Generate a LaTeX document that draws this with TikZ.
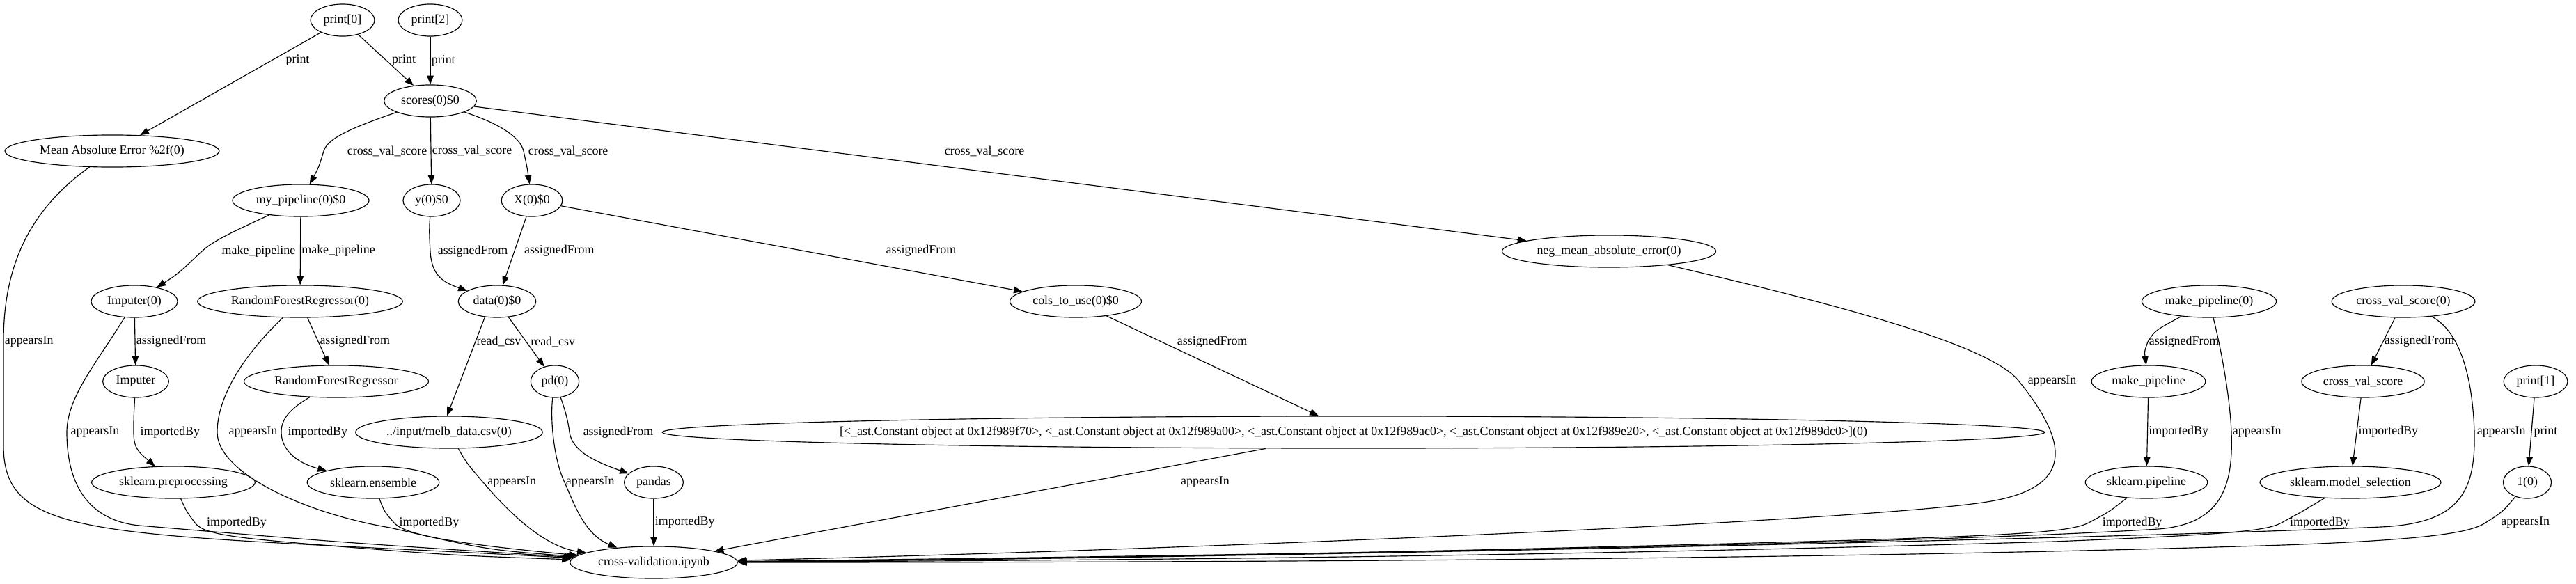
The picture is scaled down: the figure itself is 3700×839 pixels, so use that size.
\documentclass[tikz,border=0pt]{standalone}
\usepackage{fontspec}
\setmainfont{Liberation Serif}
\usepackage{tikz}
\usetikzlibrary{arrows.meta,positioning,shapes.geometric}

\newcommand{\gvfont}{\fontsize{14pt}{16pt}\selectfont}

\begin{document}
\begin{tikzpicture}[
    x=0.78125pt, y=-0.78125pt,
    every node/.style={font=\gvfont},
    var/.style={ellipse, draw, line width=0.9pt,
                minimum width=54pt, minimum height=36pt,
                inner xsep=4pt, inner ysep=2pt},
    flow/.style={-{Triangle[length=10pt, width=7.5pt]}, line width=0.9pt},
    lbl/.style={inner sep=1pt}
]
\useasboundingbox (0,0) rectangle (3700,839);

% call graph of cross-validation.ipynb
\node[var] (print0) at (492,29) {print[0]};
\node[var] (print2) at (618,29) {print[2]};
\node[var] (scores) at (618,145) {scores(0)\$0};
\node[var] (mean) at (161,217) {Mean Absolute Error \%2f(0)};
\node[var] (mypipe) at (432,288) {my\_pipeline(0)\$0};
\node[var] (y0) at (620,288) {y(0)\$0};
\node[var] (X0) at (764,288) {X(0)\$0};
\node[var] (neg) at (2311,361) {neg\_mean\_absolute\_error(0)};
\node[var] (imp0) at (193,433) {Imputer(0)};
\node[var] (rfr0) at (431,433) {RandomForestRegressor(0)};
\node[var] (data) at (714,433) {data(0)\$0};
\node[var] (cols) at (1545,433) {cols\_to\_use(0)\$0};
\node[var] (mkp0) at (3173,433) {make\_pipeline(0)};
\node[var] (cvs0) at (3452,433) {cross\_val\_score(0)};
\node[var] (imp) at (195,548) {Imputer};
\node[var] (rfr) at (483,548) {RandomForestRegressor};
\node[var] (pd) at (797,548) {pd(0)};
\node[var] (mkp) at (3086,548) {make\_pipeline};
\node[var] (cvs) at (3394,548) {cross\_val\_score};
\node[var] (print1) at (3642,548) {print[1]};
\node[var] (melb) at (645,621) {../input/melb\_data.csv(0)};
\node[var, inner xsep=-28pt] (biglist) at (1944,621) {[<\_ast.Constant object at 0x12f989f70>, <\_ast.Constant object at 0x12f989a00>, <\_ast.Constant object at 0x12f989ac0>, <\_ast.Constant object at 0x12f989e20>, <\_ast.Constant object at 0x12f989dc0>](0)};
\node[var] (skpre) at (249,693) {sklearn.preprocessing};
\node[var] (skens) at (536,693) {sklearn.ensemble};
\node[var] (pandas) at (939,693) {pandas};
\node[var] (skpipe) at (3083,693) {sklearn.pipeline};
\node[var] (skms) at (3376,693) {sklearn.model\_selection};
\node[var] (one) at (3630,693) {1(0)};
\node[var] (cv) at (939,808) {cross-validation.ipynb};

% print calls
\draw[flow] (print0) -- node[lbl, pos=0.27, right=14pt] {print} (mean);
\draw[flow] (print0) -- node[lbl, pos=0.5, right=5.5pt] {print} (scores);
\draw[flow] (print2) -- node[lbl, pos=0.5, right=0pt] {print} (scores);
\draw[flow] (print1) -- node[lbl, pos=0.5, right=1.3pt] {print} (one);

% cross_val_score arguments
\draw[flow] (scores) .. controls (500,185) and (470,200) .. (465,217)
    node[lbl, right=25pt] {cross\_val\_score} .. controls (458,240) .. (mypipe);
\draw[flow] (scores) -- node[lbl, pos=0.5, right=0pt] {cross\_val\_score} (y0);
\draw[flow] (scores) .. controls (725,180) and (748,200) .. (752,217)
    node[lbl, right=4pt] {cross\_val\_score} .. controls (757,240) .. (X0);
\draw[flow] (scores) -- node[lbl, pos=0.485, above=15.5pt] {cross\_val\_score} (neg);

% pipeline and data
\draw[flow] (mypipe) .. controls (330,335) and (305,347) .. (290,361)
    node[lbl, right=21pt] {make\_pipeline} .. controls (255,394) .. (imp0);
\draw[flow] (mypipe) -- node[lbl, pos=0.5, right=0pt] {make\_pipeline} (rfr0);
\draw[flow] (y0) .. controls (616,330) and (617,345) .. (618,361)
    node[lbl, right=7pt] {assignedFrom} .. controls (620,395) and (635,405) .. (data);
\draw[flow] (X0) -- node[lbl, pos=0.5, right=9.5pt] {assignedFrom} (data);
\draw[flow] (X0) -- node[lbl, pos=0.78, above=16.5pt] {assignedFrom} (cols);
\draw[flow] (imp0) -- node[lbl, pos=0.5, right=0pt] {assignedFrom} (imp);
\draw[flow] (rfr0) -- node[lbl, pos=0.5, right=0.5pt] {assignedFrom} (rfr);
\draw[flow] (data.-128) -- node[lbl, pos=0.25, right=0pt] {read\_csv} (melb.97);
\draw[flow] (data) -- node[lbl, pos=0.5, right=3.5pt] {read\_csv} (pd);
\draw[flow] (cols) -- node[lbl, pos=0.26, right=16pt] {assignedFrom} (biglist);
\draw[flow] (pd) .. controls (812,590) and (816,605) .. (818,621)
    node[lbl, right=14pt] {assignedFrom} .. controls (822,650) and (860,665) .. (pandas);
\draw[flow] (mkp0) .. controls (3095,475) .. (3085,491)
    node[lbl, right=0pt] {assignedFrom} .. controls (3080,505) .. (mkp);
\draw[flow] (cvs0) -- node[lbl, pos=0.5, right=0pt] {assignedFrom} (cvs);

% imports
\draw[flow] (imp) .. controls (192,600) .. (192,621)
    node[lbl, right=6pt] {importedBy} .. controls (192,645) and (200,650) .. (skpre);
\draw[flow] (rfr) .. controls (412,590) and (404,605) .. (404,621)
    node[lbl, right=6pt] {importedBy} .. controls (404,645) and (425,665) .. (skens);
\draw[flow] (mkp) -- node[lbl, pos=0.5, right=0pt] {importedBy} (skpipe);
\draw[flow] (cvs) -- node[lbl, pos=0.5, right=0.5pt] {importedBy} (skms);

% everything ends in the notebook
\draw[flow] (mean) .. controls (30,310) and (5,400) .. (5,491)
    node[lbl, right=0pt] {appearsIn} -- (5,640) .. controls (5,780) and (150,765) .. (cv);
\draw[flow] (imp0) .. controls (140,520) and (96,570) .. (96,621)
    node[lbl, right=3pt] {appearsIn} .. controls (96,700) and (130,748) .. (200,755)
    .. controls (500,780) .. (cv);
\draw[flow] (rfr0) .. controls (350,510) and (312,570) .. (312,621)
    node[lbl, right=11.5pt] {appearsIn} .. controls (312,680) and (440,738) .. (560,758)
    .. controls (700,790) .. (cv);
\draw[flow] (skpre) .. controls (268,735) .. (280,751)
    node[lbl, right=12pt] {importedBy} .. controls (292,767) and (330,772) .. (450,782)
    .. controls (650,798) .. (cv);
\draw[flow] (skens) .. controls (552,735) .. (566,751)
    node[lbl, right=4.5pt] {importedBy} .. controls (580,767) and (640,780) .. (cv);
\draw[flow] (melb) .. controls (670,665) .. (694,693)
    node[lbl, right=3.5pt] {appearsIn} .. controls (730,735) and (780,785) .. (cv);
\draw[flow] (pd) .. controls (790,600) and (795,660) .. (811,693)
    node[lbl, right=0pt] {appearsIn} .. controls (825,725) and (840,768) .. (cv);
\draw[flow] (pandas) -- node[lbl, pos=0.5, right=0pt] {importedBy} (cv);
\draw[flow] (biglist) -- node[lbl, pos=0.11, below=17.5pt] {appearsIn} (cv);
\draw[flow] (neg) .. controls (2650,440) and (2862,497) .. (2900,548)
    node[lbl, right=8.5pt] {appearsIn} .. controls (2975,640) and (2975,700) .. (2860,720)
    .. controls (2700,748) and (1700,790) .. (cv);
\draw[flow] (skpipe) .. controls (3030,735) .. (3000,751)
    node[lbl, right=14pt] {importedBy} .. controls (2975,764) and (2900,768) .. (2700,775)
    .. controls (2000,795) and (1500,803) .. (cv);
\draw[flow] (mkp0) .. controls (3190,500) and (3203,570) .. (3205,621)
    node[lbl, right=0pt] {appearsIn} .. controls (3208,700) and (3190,753) .. (3100,760)
    .. controls (2700,785) and (1600,800) .. (cv);
\draw[flow] (skms) .. controls (3310,733) .. (3277,751)
    node[lbl, right=8pt] {importedBy} .. controls (3255,763) and (3200,768) .. (2950,778)
    .. controls (2200,800) and (1600,805) .. (cv);
\draw[flow] (cvs0) .. controls (3540,480) and (3552,560) .. (3554,621)
    node[lbl, right=1.5pt] {appearsIn} .. controls (3556,710) and (3530,752) .. (3420,757)
    .. controls (3000,775) and (1700,803) .. (cv);
\draw[flow] (one) .. controls (3595,735) .. (3570,751)
    node[lbl, right=16pt] {appearsIn} .. controls (3550,764) and (3500,775) .. (3280,783)
    .. controls (2600,805) and (1700,808) .. (cv);

\end{tikzpicture}
\end{document}
